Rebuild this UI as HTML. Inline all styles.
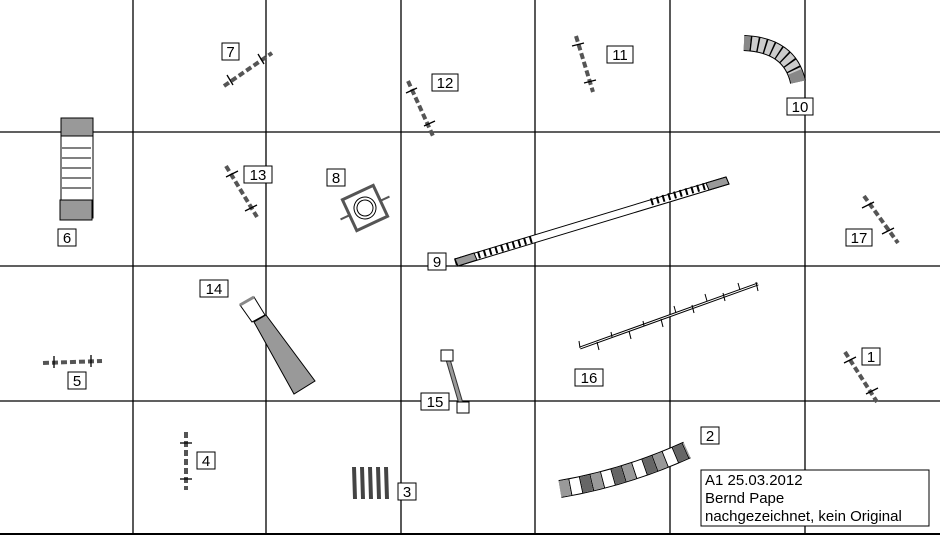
<!DOCTYPE html>
<html><head><style>body{margin:0;background:#fff}svg{display:block}text{font-family:"Liberation Sans",sans-serif;font-size:15px}</style></head><body>
<svg width="940" height="536" viewBox="0 0 940 536" xmlns="http://www.w3.org/2000/svg">
<rect width="940" height="536" fill="#fff"/>
<g stroke="#000" stroke-width="1.3">
<line x1="133" y1="0" x2="133" y2="534"/><line x1="266" y1="0" x2="266" y2="534"/><line x1="401" y1="0" x2="401" y2="534"/><line x1="535" y1="0" x2="535" y2="534"/><line x1="670" y1="0" x2="670" y2="534"/><line x1="805" y1="0" x2="805" y2="534"/>
<line x1="0" y1="132" x2="940" y2="132"/><line x1="0" y1="266" x2="940" y2="266"/><line x1="0" y1="401" x2="940" y2="401"/>
<line x1="0" y1="534" x2="940" y2="534" stroke-width="2"/>
</g>
<g fill="#fff" stroke="#000" stroke-width="1">
<rect x="222" y="43" width="17" height="17"/><rect x="432" y="74" width="26" height="17"/><rect x="607" y="46" width="26" height="17"/><rect x="787" y="98" width="26" height="17"/>
<rect x="244" y="166" width="28" height="17"/><rect x="327" y="169" width="18" height="17"/><rect x="58" y="229" width="18" height="17"/><rect x="846" y="229" width="26" height="17"/>
<rect x="428" y="253" width="18" height="17"/><rect x="200" y="280" width="28" height="17"/><rect x="68" y="372" width="18" height="17"/><rect x="575" y="369" width="28" height="17"/>
<rect x="862" y="348" width="18" height="17"/><rect x="421" y="393" width="28" height="17"/><rect x="701" y="427" width="18" height="17"/><rect x="197" y="452" width="18" height="17"/><rect x="398" y="483" width="18" height="17"/>
<rect x="701" y="470" width="228" height="56"/>
</g>
<g fill="#000" text-anchor="middle">
<text x="230.5" y="57">7</text><text x="445" y="88">12</text><text x="620" y="60">11</text><text x="800" y="112">10</text>
<text x="258" y="180">13</text><text x="336" y="183">8</text><text x="67" y="243">6</text><text x="859" y="243">17</text>
<text x="437" y="267">9</text><text x="214" y="294">14</text><text x="77" y="386">5</text><text x="589" y="383">16</text>
<text x="871" y="362">1</text><text x="435" y="407">15</text><text x="710" y="441">2</text><text x="206" y="466">4</text><text x="407" y="497">3</text>
</g>
<g fill="#000"><text x="705" y="485">A1 25.03.2012</text><text x="705" y="503">Bernd Pape</text><text x="705" y="521">nachgezeichnet, kein Original</text></g>
<g stroke="#555" stroke-width="4" stroke-dasharray="6 3">
<line x1="224" y1="86" x2="272" y2="53"/><line x1="408" y1="81" x2="433" y2="136"/><line x1="576" y1="36" x2="593" y2="92"/>
<line x1="226" y1="166" x2="257" y2="217"/><line x1="864" y1="196" x2="898" y2="243"/><line x1="43" y1="363" x2="102" y2="361"/>
<line x1="845" y1="352" x2="877" y2="402"/><line x1="186" y1="432" x2="186" y2="490"/>
</g>
<g stroke="#000" stroke-width="1.3">
<line x1="227" y1="75" x2="233" y2="85"/><line x1="258" y1="54" x2="264" y2="64"/>
<line x1="406" y1="93" x2="417" y2="88"/><line x1="424" y1="126" x2="435" y2="121"/>
<line x1="572" y1="46" x2="584" y2="43"/><line x1="584" y1="83" x2="596" y2="80"/>
<line x1="226" y1="177" x2="238" y2="171"/><line x1="245" y1="211" x2="257" y2="205"/>
<line x1="54" y1="356" x2="54" y2="368"/><line x1="91" y1="355" x2="91" y2="367"/>
<line x1="180" y1="443" x2="192" y2="443"/><line x1="180" y1="479" x2="192" y2="479"/>
<line x1="844" y1="363" x2="856" y2="357"/><line x1="866" y1="394" x2="878" y2="388"/>
<line x1="862" y1="208" x2="874" y2="202"/><line x1="882" y1="234" x2="894" y2="228"/>
</g>
<rect x="61" y="118" width="32" height="100" fill="#fff" stroke="#000"/>
<rect x="61" y="118" width="32" height="18" fill="#999" stroke="#000"/><rect x="60" y="200" width="32" height="20" fill="#999" stroke="#000"/>
<g stroke="#000"><line x1="62" y1="148" x2="91" y2="148"/><line x1="62" y1="158" x2="91" y2="158"/><line x1="62" y1="168" x2="91" y2="168"/><line x1="62" y1="178" x2="91" y2="178"/><line x1="62" y1="188" x2="91" y2="188"/></g>
<path d="M744 43 Q790 45 798 82" fill="none" stroke="#000" stroke-width="16"/>
<path d="M744 43 Q790 45 798 82" fill="none" stroke="#ccc" stroke-width="14" stroke-dasharray="6 1.5"/>
<path d="M744 43 Q790 45 798 82" fill="none" stroke="#888" stroke-width="14" stroke-dasharray="6 50 0"/>
<g transform="rotate(-25 365 208)"><rect x="348" y="191" width="34" height="34" fill="#fff" stroke="#555" stroke-width="3"/><circle cx="365" cy="208" r="11" fill="#fff" stroke="#000"/><circle cx="365" cy="208" r="8" fill="#fff" stroke="#000"/><line x1="338" y1="208" x2="348" y2="208" stroke="#555" stroke-width="2"/><line x1="382" y1="208" x2="392" y2="208" stroke="#555" stroke-width="2"/></g>
<polygon points="455,259 726,177 729,184 458,266" fill="#fff" stroke="#000"/>
<line x1="455" y1="262" x2="533" y2="239" stroke="#000" stroke-width="7" stroke-dasharray="2 4"/>
<polygon points="455,259 474,253 477,260 458,266" fill="#999" stroke="#000"/>
<polygon points="706,183 726,177 729,184 709,190" fill="#999" stroke="#000"/>
<line x1="651" y1="202" x2="706" y2="186" stroke="#000" stroke-width="7" stroke-dasharray="2 4"/>
<polyline points="580,348 758,284" fill="none" stroke="#000" stroke-width="3"/><polyline points="580,348 758,284" fill="none" stroke="#fff" stroke-width="1"/>
<g stroke="#000"><line x1="579" y1="341" x2="580" y2="348"/><line x1="597" y1="342" x2="599" y2="350"/><line x1="611" y1="332" x2="612" y2="337"/><line x1="629" y1="331" x2="631" y2="339"/><line x1="643" y1="321" x2="644" y2="326"/><line x1="661" y1="319" x2="663" y2="327"/><line x1="674" y1="306" x2="676" y2="313"/><line x1="692" y1="305" x2="694" y2="313"/><line x1="705" y1="294" x2="707" y2="301"/><line x1="723" y1="293" x2="725" y2="301"/><line x1="738" y1="283" x2="740" y2="290"/><line x1="756" y1="282" x2="758" y2="291"/></g>
<polygon points="240,305 254,297 265,315 252,322" fill="#fff" stroke="#000"/>
<polygon points="254,322 266,315 315,381 294,394" fill="#999" stroke="#000"/>
<line x1="240" y1="305" x2="254" y2="297" stroke="#888" stroke-width="3"/>
<line x1="447" y1="356" x2="462" y2="407" stroke="#333" stroke-width="5"/><line x1="447" y1="356" x2="462" y2="407" stroke="#999" stroke-width="3"/>
<rect x="441" y="350" width="12" height="11" fill="#fff" stroke="#000"/><rect x="457" y="402" width="12" height="11" fill="#fff" stroke="#000"/>
<g stroke="#444" stroke-width="4"><line x1="354" y1="467" x2="355" y2="499"/><line x1="362" y1="467" x2="363" y2="499"/><line x1="370" y1="467" x2="371" y2="499"/><line x1="378" y1="467" x2="379" y2="499"/><line x1="386" y1="467" x2="387" y2="499"/></g>
<path d="M560 489 Q625 478 687 450" fill="none" stroke="#000" stroke-width="18"/>
<path d="M560 489 Q625 478 687 450" fill="none" stroke="#fff" stroke-width="16" stroke-dasharray="10 1"/>
<path d="M560 489 Q625 478 687 450" fill="none" stroke="#999" stroke-width="16" stroke-dasharray="10 23"/>
<path d="M560 489 Q625 478 687 450" fill="none" stroke="#666" stroke-width="16" stroke-dasharray="10 23" stroke-dashoffset="-22"/>
</svg>
</body></html>
